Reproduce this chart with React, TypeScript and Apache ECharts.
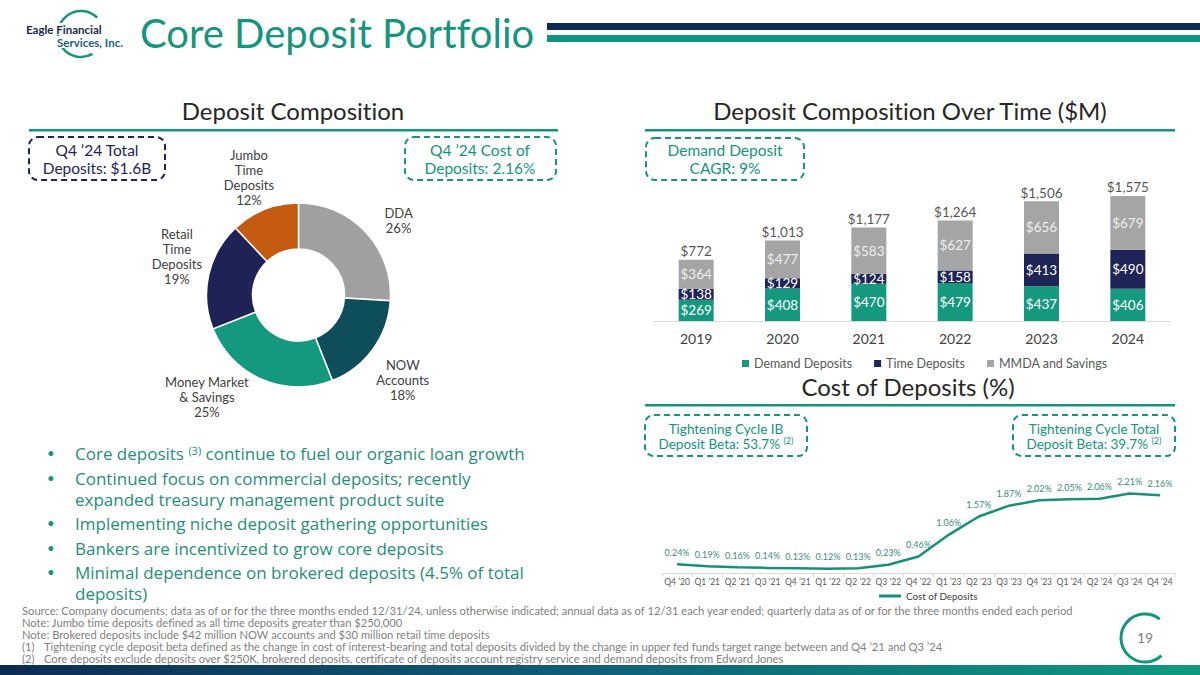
import React, { useEffect, useRef } from "react";
import * as echarts from "echarts";

// ---------- Data ----------
const pieNames = ["DDA", "NOW Accounts", "Money Market & Savings", "Retail Time Deposits", "Jumbo Time Deposits"];
const pieLabelText = ["DDA", "NOW\nAccounts", "Money Market\n& Savings", "Retail\nTime\nDeposits", "Jumbo\nTime\nDeposits"];
const pieValues = [26, 18, 25, 19, 12];

const years = ["2019", "2020", "2021", "2022", "2023", "2024"];
const demandDeposits = [269, 408, 470, 479, 437, 406];
const timeDeposits = [138, 129, 124, 158, 413, 490];
const mmdaSavings = [364, 477, 583, 627, 656, 679];
const totalDeposits = [772, 1013, 1177, 1264, 1506, 1575];

const quarters = [
  "Q4 \u201920", "Q1 \u201921", "Q2 \u201921", "Q3 \u201921", "Q4 \u201921", "Q1 \u201922", "Q2 \u201922", "Q3 \u201922",
  "Q4 \u201922", "Q1 \u201923", "Q2 \u201923", "Q3 \u201923", "Q4 \u201923", "Q1 \u201924", "Q2 \u201924", "Q3 \u201924", "Q4 \u201924",
];
const costOfDeposits = [0.24, 0.19, 0.16, 0.14, 0.13, 0.12, 0.13, 0.23, 0.46, 1.06, 1.57, 1.87, 2.02, 2.05, 2.06, 2.21, 2.16];

const bullets = [
  ["Core deposits {sup|(3)} continue to fuel our organic loan growth"],
  ["Continued focus on commercial deposits; recently", "expanded treasury management product suite"],
  ["Implementing niche deposit gathering opportunities"],
  ["Bankers are incentivized to grow core deposits"],
  ["Minimal dependence on brokered deposits (4.5% of total", "deposits)"],
];

const footnotes = [
  "Source: Company documents; data as of or for the three months ended 12/31/24, unless otherwise indicated; annual data as of 12/31 each year ended; quarterly data as of or for the three months ended each period",
  "Note: Jumbo time deposits defined as all time deposits greater than $250,000",
  "Note: Brokered deposits include $42 million NOW accounts and $30 million retail time deposits",
];
const numberedNotes = [
  ["(1)", "Tightening cycle deposit beta defined as the change in cost of interest-bearing and total deposits divided by the change in upper fed funds target range between and Q4 \u201921 and Q3 \u201924"],
  ["(2)", "Core deposits exclude deposits over $250K, brokered deposits, certificate of deposits account registry service and demand deposits from Edward Jones"],
];

// ---------- Styles ----------
const FONT = "Lato";
const BULLET_FONT = "Open Sans";
const TEAL = "#14957e";
const NAVY = "#1f2456";
const pieColors = ["#a0a0a0", "#0e4e5b", "#14997f", "#1f2255", "#c55a11"];
// small label nudges (px) so the donut labels sit like PowerPoint's "best fit"
const pieLabelNudge = [[-2, 11], [-9, 12], [-36, -13], [15, -11], [2, -1]];

export default function App() {
  const ref = useRef<HTMLDivElement>(null);

  useEffect(() => {
    if (!ref.current) return;
    const chart = echarts.init(ref.current, null, { renderer: "svg" });

    const pieCenter = [298.5, 295];
    const pieTotal = pieValues.reduce((a, b) => a + b, 0);

    const txt = (text: string, x: number, y: number, size: number, fill: string, extra: any = {}) => ({
      type: "text",
      x,
      y,
      silent: true,
      style: {
        text,
        fontSize: size,
        fontFamily: FONT,
        fill,
        align: "left",
        verticalAlign: "middle",
        ...extra,
      },
    });

    const dashedBox = (x: number, y: number, w: number, h: number, stroke: string) => ({
      type: "rect",
      silent: true,
      shape: { x, y, width: w, height: h, r: 9 },
      style: { fill: "none", stroke, lineWidth: 2, lineDash: [6, 4] },
    });

    const graphics: any[] = [];

    // Logo
    graphics.push({
      type: "arc",
      silent: true,
      shape: { cx: 81, cy: 34, r: 23, startAngle: Math.PI / 3, endAngle: Math.PI * 2 - Math.PI / 4, clockwise: true },
      style: { stroke: TEAL, lineWidth: 2.5, fill: "none" },
    });
    graphics.push(txt("Eagle Financial", 26, 29, 11.5, "#1b2a4a", { fontWeight: "bold", backgroundColor: "#fff" }));
    graphics.push(txt("Services, Inc.", 57, 42, 11.5, "#1e5f80", { fontWeight: "bold", backgroundColor: "#fff" }));

    // Title + header lines
    graphics.push(txt("Core Deposit Portfolio", 140, 33, 40, "#16957e"));
    graphics.push({ type: "rect", silent: true, shape: { x: 547, y: 23, width: 653, height: 7 }, style: { fill: "#0d2b52" } });
    graphics.push({ type: "rect", silent: true, shape: { x: 547, y: 35, width: 653, height: 7 }, style: { fill: "#0f957d" } });

    // Section headings
    graphics.push(txt("Deposit Composition", 293, 110, 24, "#262626", { align: "center" }));
    graphics.push({ type: "rect", silent: true, shape: { x: 29, y: 129, width: 529, height: 2.5 }, style: { fill: TEAL } });
    graphics.push(txt("Deposit Composition Over Time ($M)", 910, 110, 24, "#262626", { align: "center" }));
    graphics.push({ type: "rect", silent: true, shape: { x: 645, y: 129, width: 530, height: 2.5 }, style: { fill: TEAL } });
    graphics.push(txt("Cost of Deposits (%)", 908, 386, 24, "#262626", { align: "center" }));
    graphics.push({ type: "rect", silent: true, shape: { x: 645, y: 404, width: 530, height: 2.5 }, style: { fill: TEAL } });

    // Dashed callout boxes
    graphics.push(dashedBox(29, 137, 136, 43, NAVY));
    graphics.push(txt("Q4 \u201924 Total\nDeposits: $1.6B", 97, 159, 15.5, NAVY, { align: "center", lineHeight: 18 }));
    graphics.push(dashedBox(405, 137, 151, 43, TEAL));
    graphics.push(txt("Q4 \u201924 Cost of\nDeposits: 2.16%", 480, 159, 15.5, TEAL, { align: "center", lineHeight: 18 }));
    graphics.push(dashedBox(646, 138, 158, 42, TEAL));
    graphics.push(txt("Demand Deposit\nCAGR: 9%", 725, 159, 15.5, TEAL, { align: "center", lineHeight: 18 }));
    const supRich = { sup: { fontSize: 9, fontFamily: FONT, fill: TEAL, verticalAlign: "top" } };
    graphics.push(dashedBox(645, 415, 162, 41, TEAL));
    graphics.push(txt("Tightening Cycle IB\nDeposit Beta: 53.7% {sup|(2)}", 726, 436, 13.5, TEAL, { align: "center", lineHeight: 15, rich: supRich }));
    graphics.push(dashedBox(1013, 415, 162, 41, TEAL));
    graphics.push(txt("Tightening Cycle Total\nDeposit Beta: 39.7% {sup|(2)}", 1094, 436, 13.5, TEAL, { align: "center", lineHeight: 15, rich: supRich }));

    // Bullets (one text element per line)
    const bulletTops = [453, 478, 523, 548, 572];
    const wrapGap = 21;
    const bulletRich = { sup: { fontSize: 11, fontFamily: BULLET_FONT, fill: TEAL, verticalAlign: "top" } };
    bullets.forEach((lines, i) => {
      graphics.push(txt("\u2022", 47, bulletTops[i], 13, TEAL));
      lines.forEach((line, j) => {
        const extra: any = { fontFamily: BULLET_FONT };
        if (line.indexOf("{sup|") >= 0) extra.rich = bulletRich;
        graphics.push(txt(line, 75, bulletTops[i] + j * wrapGap, 17, "#1f8f78", extra));
      });
    });

    // Footnotes
    const FN = 11.2;
    footnotes.forEach((t, i) => graphics.push(txt(t, 22, 610 + i * 12, FN, "#7f7f7f")));
    numberedNotes.forEach((n, i) => {
      graphics.push(txt(n[0], 22, 646 + i * 12, FN, "#7f7f7f"));
      graphics.push(txt(n[1], 44, 646 + i * 12, FN, "#7f7f7f"));
    });

    // Page number
    graphics.push({
      type: "arc",
      silent: true,
      shape: { cx: 1145, cy: 638, r: 24, startAngle: (47 * Math.PI) / 180, endAngle: Math.PI * 2 - (52 * Math.PI) / 180, clockwise: true },
      style: { stroke: TEAL, lineWidth: 3, fill: "none" },
    });
    graphics.push(txt("19", 1145, 637, 14, "#7f7f7f", { align: "center" }));

    // Footer gradient
    graphics.push({
      type: "rect",
      silent: true,
      shape: { x: 0, y: 665, width: 1200, height: 10 },
      style: {
        fill: new echarts.graphic.LinearGradient(0, 0, 1, 0, [
          { offset: 0, color: "#0d2b52" },
          { offset: 0.5, color: "#0f6079" },
          { offset: 1, color: "#0f9a80" },
        ]),
      },
    });

    const barLabel = (color: string) => ({
      show: true,
      position: "inside",
      fontSize: 13.5,
      fontFamily: FONT,
      color,
      formatter: (p: any) => "$" + p.value,
    });

    const option: any = {
      animation: false,
      backgroundColor: "#ffffff",
      textStyle: { fontFamily: FONT },
      legend: [
        {
          data: ["Demand Deposits", "Time Deposits", "MMDA and Savings"],
          left: 737,
          top: 352,
          itemWidth: 7,
          itemHeight: 7,
          itemGap: 22,
          icon: "rect",
          selectedMode: false,
          textStyle: { fontSize: 12.5, color: "#595959", fontFamily: FONT },
        },
        {
          data: ["Cost of Deposits"],
          left: 874,
          top: 586,
          itemWidth: 22,
          itemHeight: 3,
          icon: "rect",
          selectedMode: false,
          textStyle: { fontSize: 9.8, color: "#404040", fontFamily: FONT },
        },
      ],
      grid: [
        { left: 653, right: 29, top: 178, bottom: 354 },
        { left: 662, right: 25, top: 483, bottom: 102 },
      ],
      xAxis: [
        {
          type: "category",
          gridIndex: 0,
          data: years,
          axisLine: { lineStyle: { color: "#d9d9d9", width: 1 } },
          axisTick: { show: false },
          axisLabel: { fontSize: 14, color: "#404040", margin: 10, fontFamily: FONT },
        },
        {
          type: "category",
          gridIndex: 1,
          data: quarters,
          axisLine: { lineStyle: { color: "#d9d9d9", width: 1 } },
          axisTick: { show: true, length: 4, lineStyle: { color: "#d9d9d9" } },
          axisLabel: { fontSize: 8.5, color: "#595959", margin: 4, interval: 0, fontFamily: FONT },
        },
      ],
      yAxis: [
        { type: "value", gridIndex: 0, min: 0, max: 1800, show: false },
        { type: "value", gridIndex: 1, min: 0, max: 2.5, show: false },
      ],
      series: [
        {
          type: "pie",
          center: pieCenter,
          radius: [46, 92],
          startAngle: 90,
          clockwise: true,
          silent: true,
          itemStyle: { borderColor: "#ffffff", borderWidth: 1.5 },
          data: pieNames.map((n, i) => ({ name: n, value: pieValues[i], itemStyle: { color: pieColors[i] } })),
          label: {
            show: true,
            position: "outside",
            fontSize: 13,
            lineHeight: 15,
            color: "#404040",
            fontFamily: FONT,
            align: "center",
            formatter: (p: any) => pieLabelText[p.dataIndex] + "\n" + p.value + "%",
          },
          labelLine: { show: false },
          labelLayout: (p: any) => {
            const i = p.dataIndex;
            let cum = 0;
            for (let k = 0; k < i; k++) cum += pieValues[k];
            const mid = ((cum + pieValues[i] / 2) / pieTotal) * Math.PI * 2;
            return {
              x: pieCenter[0] + 140 * Math.sin(mid) + pieLabelNudge[i][0],
              y: pieCenter[1] - 125 * Math.cos(mid) + pieLabelNudge[i][1],
              align: "center",
              verticalAlign: "middle",
            };
          },
        },
        {
          name: "Demand Deposits",
          type: "bar",
          stack: "dep",
          xAxisIndex: 0,
          yAxisIndex: 0,
          barWidth: 35,
          data: demandDeposits,
          itemStyle: { color: "#14997f" },
          label: barLabel("#ffffff"),
        },
        {
          name: "Time Deposits",
          type: "bar",
          stack: "dep",
          xAxisIndex: 0,
          yAxisIndex: 0,
          barWidth: 35,
          data: timeDeposits,
          itemStyle: { color: NAVY },
          label: barLabel("#ffffff"),
        },
        {
          name: "MMDA and Savings",
          type: "bar",
          stack: "dep",
          xAxisIndex: 0,
          yAxisIndex: 0,
          barWidth: 35,
          data: mmdaSavings,
          itemStyle: { color: "#a5a5a5" },
          label: barLabel("#eeeeee"),
        },
        {
          name: "Total",
          type: "scatter",
          xAxisIndex: 0,
          yAxisIndex: 0,
          data: totalDeposits,
          symbolSize: 1,
          silent: true,
          itemStyle: { color: "rgba(0,0,0,0)" },
          label: {
            show: true,
            position: "top",
            distance: 1,
            fontSize: 13.5,
            color: "#262626",
            fontFamily: FONT,
            formatter: (p: any) => "$" + Number(p.value).toLocaleString("en-US"),
          },
        },
        {
          name: "Cost of Deposits",
          type: "line",
          xAxisIndex: 1,
          yAxisIndex: 1,
          data: costOfDeposits,
          symbol: "circle",
          symbolSize: 1,
          lineStyle: { color: "#17907a", width: 2.5 },
          itemStyle: { color: "#17907a" },
          label: {
            show: true,
            position: "top",
            distance: 7,
            fontSize: 9,
            color: "#3a8c7c",
            fontFamily: FONT,
            formatter: (p: any) => Number(p.value).toFixed(2) + "%",
          },
        },
      ],
      graphic: graphics,
    };

    chart.setOption(option);
    return () => chart.dispose();
  }, []);

  return (
    <>
      <style>{`#root text { font-variant-ligatures: none; font-feature-settings: "liga" 0; }`}</style>
      <div
        ref={ref}
        style={{ position: "fixed", left: 0, top: 0, width: 1200, height: 675, background: "#fff" }}
      />
    </>
  );
}
